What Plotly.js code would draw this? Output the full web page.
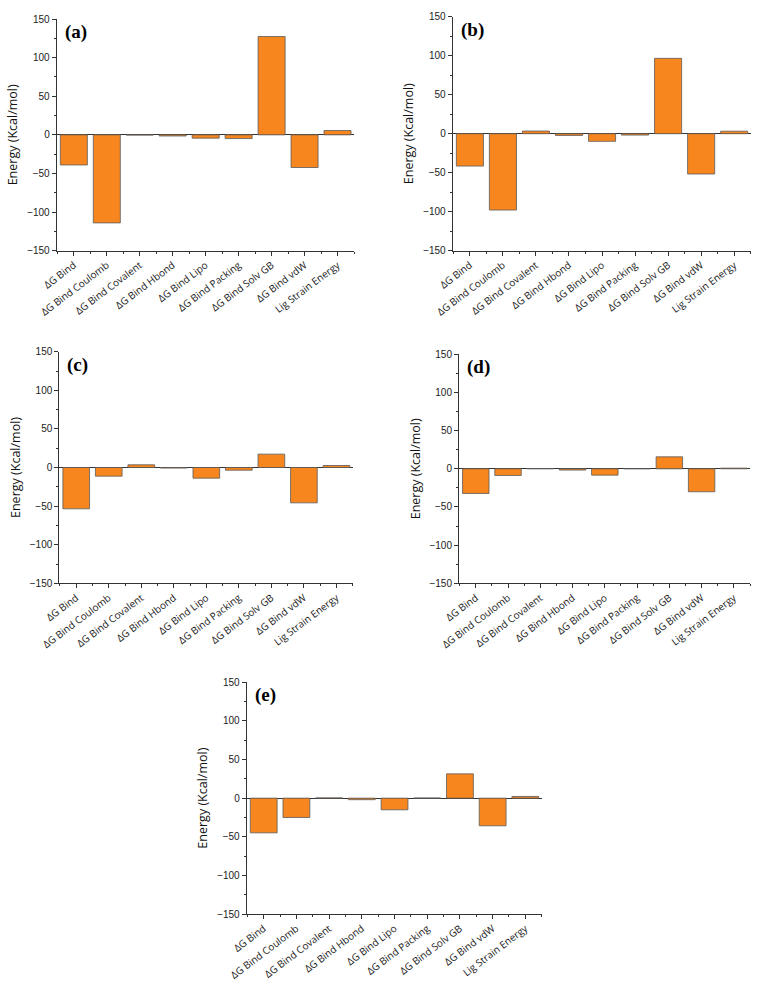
<!DOCTYPE html>
<html>
<head>
<meta charset="utf-8">
<script src="https://cdn.plot.ly/plotly-3.0.1.min.js"></script>
<style>html,body{margin:0;padding:0;background:#fff;}#chart{width:760px;height:988px;}</style>
</head>
<body>
<div id="chart"></div>
<script>
// Data
const categories = ["ΔG Bind", "ΔG Bind Coulomb", "ΔG Bind Covalent", "ΔG Bind Hbond", "ΔG Bind Lipo", "ΔG Bind Packing", "ΔG Bind Solv GB", "ΔG Bind vdW", "Lig Strain Energy"];
const panelLabels = ["(a)", "(b)", "(c)", "(d)", "(e)"];
const valuesA = [-39, -114, -0.3, -1.5, -4.3, -4.8, 127.3, -42.3, 5.6];
const valuesB = [-41.5, -97.9, 3.4, -2.2, -9.8, -1.8, 96.6, -51.7, 3.2];
const valuesC = [-53.5, -11.2, 3.5, -0.8, -13.8, -3.5, 17.3, -45.8, 2.6];
const valuesD = [-32.3, -8.7, 0.3, -1.7, -8.3, 0.2, 15.7, -30.1, 0.9];
const valuesE = [-44.9, -25, 0.3, -2, -15.1, 0.2, 31.5, -35.8, 2.2];
const yTicks = [-150, -100, -50, 0, 50, 100, 150];

const allValues = [valuesA, valuesB, valuesC, valuesD, valuesE];

// layout domains in px (left, right, top, bottom)
const W = 760, H = 988;
const boxes = [
  [56.7, 354, 19, 250.7],
  [452.7, 750.7, 16.7, 250.7],
  [59.3, 352.7, 351.7, 583.3],
  [459, 750, 354.3, 583.3],
  [246.7, 541.7, 682.3, 914]
];

const xIdx = categories.map((c, i) => i);
const traces = [];
const layout = {
  width: W, height: H, autosize: false,
  margin: {l: 0, r: 0, t: 0, b: 0},
  paper_bgcolor: '#fff', plot_bgcolor: '#fff',
  showlegend: false,
  annotations: []
};

allValues.forEach((vals, k) => {
  const sfx = k === 0 ? '' : String(k + 1);
  const b = boxes[k];
  traces.push({
    type: 'bar',
    x: xIdx,
    y: vals,
    xaxis: 'x' + sfx,
    yaxis: 'y' + sfx,
    width: 0.82,
    marker: {color: '#F7861F', line: {color: '#5a5a5a', width: 0.8}},
    hoverinfo: 'skip'
  });
  layout['xaxis' + sfx] = {
    domain: [b[0] / W, b[1] / W],
    anchor: 'y' + sfx,
    range: [-0.52, 8.5],
    tickmode: 'array',
    tickvals: xIdx,
    ticktext: categories,
    tickangle: -37,
    ticks: 'outside', ticklen: 4, tickwidth: 1, tickcolor: '#333',
    minor: {ticks: 'outside', ticklen: 2, tickwidth: 1, tickcolor: '#333', tick0: 0.5, dtick: 1, showgrid: false},
    showline: true, linecolor: '#333', linewidth: 1,
    showgrid: false, zeroline: false,
    tickfont: {family: 'Open Sans, Noto Sans, sans-serif', size: 10, color: '#222'},
    fixedrange: true
  };
  layout['yaxis' + sfx] = {
    domain: [1 - b[3] / H, 1 - b[2] / H],
    anchor: 'x' + sfx,
    range: [-150, 150],
    tickmode: 'array',
    tickvals: yTicks,
    ticks: 'outside', ticklen: 4, tickwidth: 1, tickcolor: '#333',
    minor: {ticks: 'outside', ticklen: 2, tickwidth: 1, tickcolor: '#333', tick0: -125, dtick: 50, showgrid: false},
    showline: true, linecolor: '#333', linewidth: 1,
    showgrid: false,
    zeroline: true, zerolinecolor: '#333', zerolinewidth: 1,
    tickfont: {family: 'Liberation Sans, Arial, sans-serif', size: 10, color: '#222'},
    title: {text: 'Energy (Kcal/mol)', font: {family: 'Open Sans, Noto Sans, sans-serif', size: 12.5, color: '#111'}, standoff: 6},
    fixedrange: true
  };
  layout.annotations.push({
    text: panelLabels[k],
    xref: 'x' + sfx + ' domain', yref: 'y' + sfx + ' domain',
    x: 0.02, y: 1.0, xanchor: 'left', yanchor: 'top',
    showarrow: false,
    font: {family: 'Liberation Serif, Times New Roman, serif', size: 19, color: '#000', weight: 'bold'}
  });
});

Plotly.newPlot('chart', traces, layout, {staticPlot: true, displayModeBar: false});
</script>
</body>
</html>
